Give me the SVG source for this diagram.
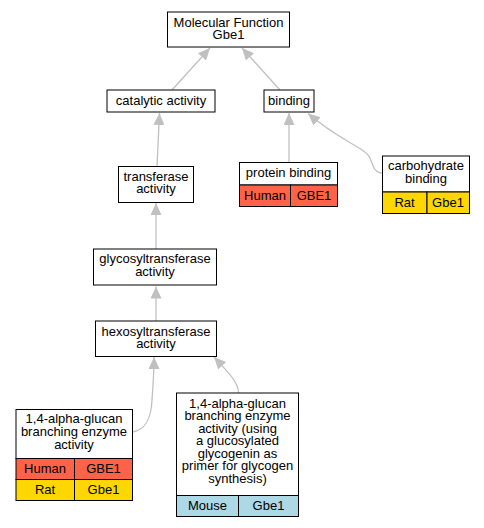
<svg xmlns="http://www.w3.org/2000/svg" width="484" height="528" viewBox="0 0 484 528">
<style>
text{font-family:"Liberation Sans",Arial,sans-serif;font-size:13px;text-anchor:middle;fill:#000}
.b{fill:#fff;stroke:#000;stroke-width:1}
.hu{fill:#ff6347;stroke:#000;stroke-width:1}
.ra{fill:#ffd700;stroke:#000;stroke-width:1}
.mo{fill:#add8e6;stroke:#000;stroke-width:1}
.e{fill:none;stroke:#c0c0c0;stroke-width:1.3;marker-end:url(#ah)}
</style>
<defs>
<marker id="ah" viewBox="0 0 12 11" refX="12" refY="5.5" markerWidth="12" markerHeight="11" markerUnits="userSpaceOnUse" orient="auto">
<path d="M0,0 L12,5.5 L0,11 z" fill="#c0c0c0"/>
</marker>
</defs>
<rect width="484" height="528" fill="#fff"/>
<g id="edges">
<path class="e" d="M172,90 L210,48"/>
<path class="e" d="M280,90 L242,48"/>
<path class="e" d="M157,166.5 L159.5,113"/>
<path class="e" d="M156,249 L156,203"/>
<path class="e" d="M156,321 L156,286.5"/>
<path class="e" d="M289,162.5 L289,113"/>
<path class="e" d="M382.5,173 C374,173 373,165 370,158 C366,148 340,141 308,113.5"/>
<path class="e" d="M132.5,432 C145,430 151,420 152,400 C153,385 154,375 154,357"/>
<path class="e" d="M238.5,393 C238.5,383 230,374 214,357"/>
</g>
<g id="mf">
<rect class="b" x="167.5" y="12" width="122" height="35"/>
<text x="228.5" y="26.5">Molecular Function</text>
<text x="228.5" y="39">Gbe1</text>
</g>
<g id="catalytic">
<rect class="b" x="107" y="90" width="108" height="22"/>
<text x="161" y="105">catalytic activity</text>
</g>
<g id="binding">
<rect class="b" x="264" y="90" width="50" height="22"/>
<text x="289" y="105">binding</text>
</g>
<g id="transferase">
<rect class="b" x="118.5" y="166.5" width="75" height="36"/>
<text x="156" y="180.5">transferase</text>
<text x="156" y="193">activity</text>
</g>
<g id="glycosyl">
<rect class="b" x="93.5" y="249" width="123" height="36"/>
<text x="155" y="263">glycosyltransferase</text>
<text x="155" y="275.5">activity</text>
</g>
<g id="hexosyl">
<rect class="b" x="95.5" y="321" width="121" height="35.5"/>
<text x="156" y="335.5">hexosyltransferase</text>
<text x="156" y="348">activity</text>
</g>
<g id="protein">
<rect class="b" x="239.5" y="162.5" width="98" height="22.5"/>
<rect class="hu" x="239.5" y="185" width="51" height="21.5"/>
<rect class="hu" x="290.5" y="185" width="47" height="21.5"/>
<text x="288.5" y="177">protein binding</text>
<text x="265" y="200">Human</text>
<text x="314" y="200">GBE1</text>
</g>
<g id="carbohydrate">
<rect class="b" x="382.5" y="156" width="87" height="36"/>
<rect class="ra" x="382.5" y="192" width="44.5" height="21.5"/>
<rect class="ra" x="427" y="192" width="42.5" height="21.5"/>
<text x="426" y="170">carbohydrate</text>
<text x="426" y="182.5">binding</text>
<text x="404.5" y="206.5">Rat</text>
<text x="448" y="206.5">Gbe1</text>
</g>
<g id="branching">
<rect class="b" x="16" y="409.5" width="116.5" height="49"/>
<rect class="hu" x="16" y="458.5" width="58.5" height="21"/>
<rect class="hu" x="74.5" y="458.5" width="58" height="21"/>
<rect class="ra" x="16" y="479.5" width="58.5" height="21"/>
<rect class="ra" x="74.5" y="479.5" width="58" height="21"/>
<text x="74" y="423">1,4-alpha-glucan</text>
<text x="74" y="436">branching enzyme</text>
<text x="74" y="449">activity</text>
<text x="45" y="473">Human</text>
<text x="103.5" y="473">GBE1</text>
<text x="45" y="494">Rat</text>
<text x="103.5" y="494">Gbe1</text>
</g>
<g id="branching-glycogenin">
<rect class="b" x="176.5" y="393" width="122" height="102.5"/>
<rect class="mo" x="176.5" y="495.5" width="62" height="21"/>
<rect class="mo" x="238.5" y="495.5" width="60" height="21"/>
<text x="237.5" y="407.5">1,4-alpha-glucan</text>
<text x="237.5" y="420">branching enzyme</text>
<text x="237.5" y="432.5">activity (using</text>
<text x="237.5" y="445">a glucosylated</text>
<text x="237.5" y="457.5">glycogenin as</text>
<text x="237.5" y="470">primer for glycogen</text>
<text x="237.5" y="482.5">synthesis)</text>
<text x="207.5" y="510">Mouse</text>
<text x="268.5" y="510">Gbe1</text>
</g>
</svg>
